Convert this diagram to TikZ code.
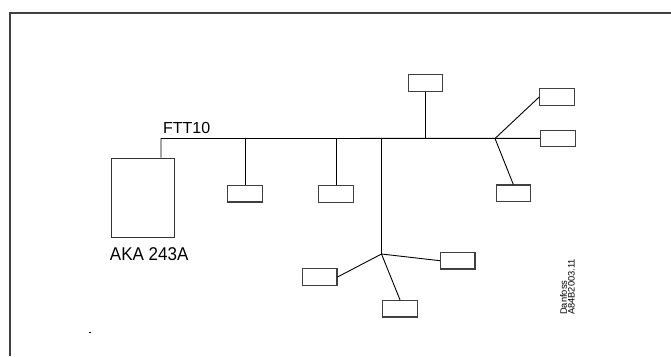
\documentclass[tikz,border=0pt]{standalone}
\usepackage{fontspec}
\setmainfont{Liberation Sans}
\usetikzlibrary{positioning}

\tikzset{
  unit/.style={draw=black!75, line width=1.1pt, minimum width=34.5pt, minimum height=16.5pt, inner sep=0pt},
  wire/.style={black, line width=0.9pt}
}

\begin{document}
\begin{tikzpicture}[x=1pt, y=-1pt]
\useasboundingbox (0,0) rectangle (671,356);
\def\busy{138.5}

% frame
\draw[black!75, line width=1.4pt] (10,356) -- (10,13) -- (671,13);

% controller
\node[draw=black!80, line width=0.9pt, minimum width=62.3pt, minimum height=79pt, inner sep=0pt] (aka) at (142.9,197.5) {};
\node[anchor=base west, font=\fontsize{18.5}{20}\selectfont, xscale=0.92, transform shape] (akalabel) at (106.7,260) {AKA 243A};
\coordinate (bus) at (161,\busy);
\node[anchor=base west, font=\fontsize{16}{18}\selectfont] (ftt) at (159.5,133.3) {FTT10};

% units
\node[unit] (b1) at (245,193.7) {};
\node[unit] (b2) at (336,193.8) {};
\node[unit] (top) at (425.5,83) {};
\node[unit] (r1) at (557,97) {};
\node[unit] (r2) at (558,138.4) {};
\node[unit] (r3) at (513.3,193.2) {};
\node[unit] (ll) at (319.7,277) {};
\node[unit] (lr) at (457.7,260.7) {};
\node[unit] (lb) at (400,308.7) {};

\coordinate (j1) at (495,\busy);
\coordinate (j2) at (381.5,254);

% bus and branches
\draw[wire] (bus |- aka.north) -- (bus) -- (r2.west);
\draw[wire] (b1.north) -- (b1.north |- bus);
\draw[wire] (b2.north) -- (b2.north |- bus);
\draw[wire] (top.south) -- (top.south |- bus);
\draw[wire] (j2 |- bus) -- (j2);
\draw[wire] (j1) -- (r1.west);
\draw[wire] (j1) -- (r3.north);
\draw[wire] (j2) -- (ll.east);
\draw[wire] (j2) -- (lr.west);
\draw[wire] (j2) -- (lb.north);

% drawing number
\node[rotate=90, anchor=north west, align=left, inner sep=0pt, font=\fontsize{9.3}{5.8}\selectfont] (ref) at (560,315) {Danfoss\\A84B2003.11};

\fill (89.4,331.6) rectangle (90.6,332.8);
\end{tikzpicture}
\end{document}
